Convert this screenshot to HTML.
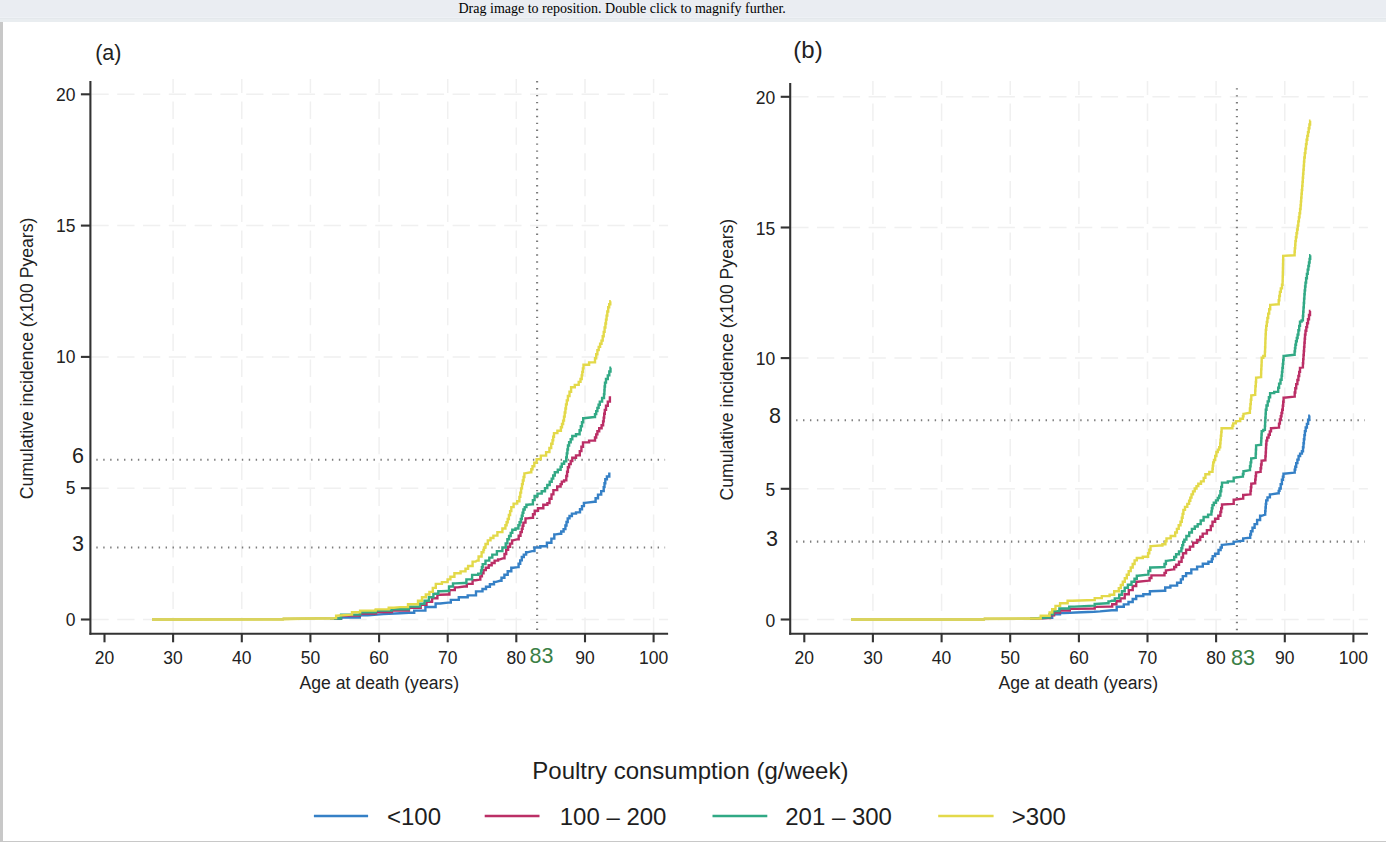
<!DOCTYPE html>
<html><head><meta charset="utf-8"><style>
html,body{margin:0;padding:0;background:#fff;}
body{width:1386px;height:842px;overflow:hidden;position:relative;font-family:"Liberation Sans", sans-serif;}
#bar{position:absolute;left:0;top:0;width:1386px;height:17px;background:#eaedf2;}
#bar2{position:absolute;left:0;top:17px;width:1386px;height:5px;background:#e9edf0;border-top:1px solid #eef1f5;box-sizing:border-box;}
#bar3{position:absolute;left:0;top:18px;width:1386px;height:1px;background:#e4e8ec;}
#msg{position:absolute;left:458.5px;top:0px;font-family:"Liberation Serif",serif;font-size:14px;line-height:18px;color:#000;white-space:nowrap;}
#lb{position:absolute;left:0;top:22px;width:3px;height:820px;background:#c8c8c8;}
#bb{position:absolute;left:0;top:841px;width:1386px;height:1px;background:#c8c8c8;}
svg{position:absolute;left:0;top:0;}
</style></head><body>
<div id="bar"></div><div id="bar2"></div><div id="bar3"></div>
<div id="msg">Drag image to reposition. Double click to magnify further.</div>
<svg width="1386" height="842" viewBox="0 0 1386 842" font-family='"Liberation Sans", sans-serif'>
<defs><filter id="bl" x="-5%" y="-5%" width="110%" height="110%"><feGaussianBlur stdDeviation="0.4"/></filter></defs>
<g stroke="#f0f0f0" stroke-width="1.5" stroke-dasharray="17.3 8.5" fill="none"><line x1="173.1" y1="79" x2="173.1" y2="632.8" stroke-dashoffset="3.2"/><line x1="241.8" y1="79" x2="241.8" y2="632.8" stroke-dashoffset="3.2"/><line x1="310.4" y1="79" x2="310.4" y2="632.8" stroke-dashoffset="3.2"/><line x1="379.1" y1="79" x2="379.1" y2="632.8" stroke-dashoffset="3.2"/><line x1="447.7" y1="79" x2="447.7" y2="632.8" stroke-dashoffset="3.2"/><line x1="516.3" y1="79" x2="516.3" y2="632.8" stroke-dashoffset="3.2"/><line x1="585.0" y1="79" x2="585.0" y2="632.8" stroke-dashoffset="3.2"/><line x1="653.6" y1="79" x2="653.6" y2="632.8" stroke-dashoffset="3.2"/><line x1="91.4" y1="619.5" x2="668.1" y2="619.5"/><line x1="91.4" y1="488.2" x2="668.1" y2="488.2"/><line x1="91.4" y1="356.9" x2="668.1" y2="356.9"/><line x1="91.4" y1="225.6" x2="668.1" y2="225.6"/><line x1="91.4" y1="94.3" x2="668.1" y2="94.3"/></g>
<g stroke="#7c7c7c" stroke-width="2.1" stroke-dasharray="1.4 5.53" fill="none"><line x1="96.3" y1="459.8" x2="665.1" y2="459.8"/><line x1="96.3" y1="547.5" x2="665.1" y2="547.5"/><line x1="537.1" y1="81.1" x2="537.1" y2="633.8"/></g>
<g filter="url(#bl)">
<polyline points="330.0,618.8 340.9,618.8 340.9,617.5 351.7,617.5 359.8,617.5 359.8,615.2 367.9,615.2 383.5,614.1 400.0,613.3 408.9,612.8 414.2,612.8 414.2,610.6 419.6,610.6 425.4,610.6 425.4,607.0 431.2,607.0 435.6,607.0 435.6,603.5 440.1,603.5 448.1,602.6 450.8,602.6 450.8,599.9 453.5,599.9 458.8,599.9 458.8,597.2 464.1,597.2 467.7,597.2 467.7,595.4 471.3,595.4 476.0,595.4 476.0,591.4 480.7,591.4 482.5,591.4 482.5,589.0 486.0,589.0 486.0,586.7 487.8,586.7 489.9,586.7 489.9,584.3 494.0,584.3 494.0,581.9 496.1,581.9 500.0,580.8 501.5,580.8 501.5,577.8 504.4,577.8 504.4,574.8 505.9,574.8 507.7,574.8 507.7,571.2 511.3,571.2 511.3,567.7 513.1,567.7 517.8,567.1 518.6,567.1 518.6,563.7 520.2,563.7 520.2,560.4 521.8,560.4 521.8,557.0 522.6,557.0 523.8,557.0 523.8,554.6 526.1,554.6 526.1,552.3 527.3,552.3 532.1,551.1 534.5,551.1 534.5,547.5 536.8,547.5 540.3,547.5 540.3,546.3 543.9,546.3 546.9,546.3 546.9,542.8 549.9,542.8 551.4,542.8 551.4,538.6 554.3,538.6 554.3,534.4 555.8,534.4 560.0,533.8 561.2,533.8 561.2,531.5 563.6,531.5 563.6,529.1 564.8,529.1 565.4,529.1 565.4,525.5 566.5,525.5 566.5,522.0 567.7,522.0 567.7,518.4 568.3,518.4 569.5,518.4 569.5,516.0 571.9,516.0 571.9,513.6 573.1,513.6 576.0,513.6 576.0,512.4 579.0,512.4 580.0,512.4 580.0,509.2 582.0,509.2 582.0,506.1 583.9,506.1 583.9,502.9 584.9,502.9 594.4,501.8 595.6,501.8 595.6,498.2 598.0,498.2 598.0,494.6 599.2,494.6 601.2,494.6 601.2,491.1 603.3,491.1 603.7,491.1 603.7,487.1 604.5,487.1 604.5,483.2 605.3,483.2 605.3,479.2 605.7,479.2 606.9,479.2 606.9,476.5 609.3,476.5 609.3,473.8 610.5,473.8" fill="none" stroke="#3580c6" stroke-width="2.4" stroke-linejoin="miter" stroke-linecap="butt"/>
<polyline points="330.0,618.6 341.0,618.6 341.0,615.5 352.0,615.5 360.0,615.5 360.0,613.5 368.0,613.5 376.0,613.5 376.0,612.0 384.0,612.0 392.0,612.0 392.0,610.6 400.0,610.6 408.9,610.6 408.9,607.9 417.8,607.9 420.7,607.9 420.7,604.8 426.5,604.8 426.5,601.7 429.4,601.7 432.1,601.7 432.1,598.2 437.4,598.2 437.4,594.7 440.1,594.7 447.2,594.5 449.4,594.5 449.4,590.1 451.7,590.1 454.8,590.1 454.8,587.4 457.9,587.4 464.1,586.5 466.8,586.5 466.8,583.9 469.5,583.9 472.6,583.9 472.6,580.3 475.7,580.3 479.5,579.6 480.3,579.6 480.3,576.4 481.9,576.4 481.9,573.3 483.5,573.3 483.5,570.1 484.3,570.1 485.8,570.1 485.8,567.7 488.7,567.7 488.7,565.3 490.2,565.3 491.7,565.3 491.7,563.0 494.6,563.0 494.6,560.6 496.1,560.6 498.1,560.6 498.1,559.4 500.0,559.4 503.6,558.2 504.5,558.2 504.5,554.0 506.2,554.0 506.2,549.9 507.1,549.9 508.1,549.9 508.1,546.7 510.1,546.7 510.1,543.6 512.1,543.6 512.1,540.4 513.1,540.4 517.8,539.2 518.7,539.2 518.7,535.7 520.5,535.7 520.5,532.1 521.4,532.1 521.8,532.1 521.8,528.9 522.6,528.9 522.6,525.8 523.4,525.8 523.4,522.6 523.8,522.6 525.5,522.6 525.5,518.4 527.3,518.4 532.1,517.8 533.0,517.8 533.0,514.2 534.7,514.2 534.7,510.7 535.6,510.7 538.0,510.7 538.0,508.3 540.4,508.3 543.3,508.3 543.3,504.8 546.3,504.8 547.4,504.8 547.4,503.1 548.5,503.1 549.5,503.1 549.5,498.8 551.5,498.8 551.5,494.4 553.4,494.4 553.4,490.1 554.4,490.1 557.2,490.1 557.2,486.5 560.0,486.5 560.6,486.5 560.6,484.1 561.8,484.1 561.8,481.6 562.4,481.6 564.1,481.6 564.1,480.4 565.9,480.4 566.3,480.4 566.3,476.0 567.1,476.0 567.1,471.7 567.9,471.7 567.9,467.3 568.3,467.3 569.1,467.3 569.1,464.1 570.7,464.1 570.7,461.0 572.3,461.0 572.3,457.8 573.1,457.8 576.0,457.8 576.0,455.4 579.0,455.4 579.8,455.4 579.8,451.1 581.4,451.1 581.4,446.7 583.0,446.7 583.0,442.4 583.8,442.4 589.1,442.4 589.1,440.6 594.4,440.6 595.0,440.6 595.0,437.5 596.2,437.5 596.2,434.4 597.4,434.4 597.4,431.3 598.0,431.3 599.2,431.3 599.2,428.3 601.6,428.3 601.6,425.3 602.8,425.3 603.1,425.3 603.1,421.4 603.7,421.4 603.7,417.6 604.2,417.6 604.2,413.8 604.8,413.8 604.8,409.9 605.1,409.9 606.0,409.9 606.0,405.8 607.8,405.8 607.8,401.6 608.7,401.6 609.9,401.6 609.9,397.4 611.1,397.4" fill="none" stroke="#bb2f66" stroke-width="2.4" stroke-linejoin="miter" stroke-linecap="butt"/>
<polyline points="330.0,618.5 341.1,618.5 341.1,614.6 352.3,614.6 360.1,614.6 360.1,612.3 367.9,612.3 375.7,612.3 375.7,610.6 383.5,610.6 391.8,610.6 391.8,609.2 400.0,609.2 408.9,609.2 408.9,606.6 417.8,606.6 420.0,606.6 420.0,603.7 424.5,603.7 424.5,600.8 426.7,600.8 428.9,600.8 428.9,597.2 433.4,597.2 433.4,593.7 435.6,593.7 438.3,593.7 438.3,591.2 441.0,591.2 447.2,591.0 449.0,591.0 449.0,586.5 450.8,586.5 453.0,586.5 453.0,583.4 455.2,583.4 464.1,583.0 466.4,583.0 466.4,579.4 468.6,579.4 472.1,579.4 472.1,574.9 475.7,574.9 478.2,574.9 478.2,573.6 480.7,573.6 481.1,573.6 481.1,570.4 481.9,570.4 481.9,567.3 482.7,567.3 482.7,564.1 483.1,564.1 485.5,564.1 485.5,560.6 487.8,560.6 489.3,560.6 489.3,557.6 492.3,557.6 492.3,554.6 493.8,554.6 496.9,554.6 496.9,551.1 500.0,551.1 502.4,551.1 502.4,547.5 504.8,547.5 505.7,547.5 505.7,543.4 507.4,543.4 507.4,539.2 508.3,539.2 509.1,539.2 509.1,536.0 510.7,536.0 510.7,532.9 512.3,532.9 512.3,529.7 513.1,529.7 515.5,529.7 515.5,528.5 517.8,528.5 518.4,528.5 518.4,525.3 519.6,525.3 519.6,522.2 520.8,522.2 520.8,519.0 521.4,519.0 521.8,519.0 521.8,515.8 522.6,515.8 522.6,512.7 523.4,512.7 523.4,509.5 523.8,509.5 524.7,509.5 524.7,507.1 526.4,507.1 526.4,504.8 527.3,504.8 532.1,504.2 532.9,504.2 532.9,500.1 534.6,500.1 534.6,496.0 535.4,496.0 537.5,496.0 537.5,493.6 541.7,493.6 541.7,491.3 543.8,491.3 545.0,491.3 545.0,488.1 547.3,488.1 547.3,485.0 549.7,485.0 549.7,481.8 550.9,481.8 551.7,481.8 551.7,478.6 553.2,478.6 553.2,475.5 554.8,475.5 554.8,472.3 555.6,472.3 557.8,472.3 557.8,469.7 560.0,469.7 560.6,469.7 560.6,466.8 561.8,466.8 561.8,463.8 562.4,463.8 564.1,463.8 564.1,461.4 565.9,461.4 566.2,461.4 566.2,457.4 566.8,457.4 566.8,453.4 567.4,453.4 567.4,449.5 568.0,449.5 568.0,445.5 568.3,445.5 569.1,445.5 569.1,442.3 570.7,442.3 570.7,439.2 572.3,439.2 572.3,436.0 573.1,436.0 576.0,436.0 576.0,434.2 579.0,434.2 579.6,434.2 579.6,430.2 580.8,430.2 580.8,426.2 582.0,426.2 582.0,422.2 583.2,422.2 583.2,418.2 583.8,418.2 594.4,417.0 595.0,417.0 595.0,414.1 596.2,414.1 596.2,411.1 596.8,411.1 597.4,411.1 597.4,407.9 598.6,407.9 598.6,404.8 599.8,404.8 599.8,401.6 600.4,401.6 602.1,401.6 602.1,398.0 603.9,398.0 604.0,398.0 604.0,394.1 604.4,394.1 604.4,390.3 604.6,390.3 604.6,386.5 605.0,386.5 605.0,382.6 605.1,382.6 606.0,382.6 606.0,379.0 607.8,379.0 607.8,375.4 608.7,375.4 609.3,375.4 609.3,371.5 610.5,371.5 610.5,367.7 611.1,367.7" fill="none" stroke="#30a985" stroke-width="2.4" stroke-linejoin="miter" stroke-linecap="butt"/>
<polyline points="152.0,619.5 283.0,619.2 320.0,618.3 336.0,618.0 336.1,618.0 336.1,615.8 336.2,615.8 351.7,614.6 352.0,614.6 352.0,612.3 352.3,612.3 360.1,612.3 360.1,610.6 367.9,610.6 375.7,610.6 375.7,609.4 383.5,609.4 388.7,609.4 388.7,607.7 393.9,607.7 400.0,607.1 408.0,607.1 408.0,604.3 416.0,604.3 418.0,604.3 418.0,600.8 422.0,600.8 422.0,597.2 424.0,597.2 425.8,597.2 425.8,594.5 429.4,594.5 429.4,591.9 431.2,591.9 432.8,591.9 432.8,587.9 435.8,587.9 435.8,583.9 437.4,583.9 441.9,583.9 441.9,582.1 446.3,582.1 447.6,582.1 447.6,579.4 450.4,579.4 450.4,576.7 451.7,576.7 454.4,576.7 454.4,573.2 457.0,573.2 460.6,573.2 460.6,571.4 464.1,571.4 465.5,571.4 465.5,568.7 468.1,568.7 468.1,566.0 469.5,566.0 472.6,566.0 472.6,561.6 475.7,561.6 477.1,560.6 478.6,560.6 478.6,556.5 481.6,556.5 481.6,552.3 483.1,552.3 483.4,552.3 483.4,549.9 484.0,549.9 484.0,547.5 484.3,547.5 485.5,547.5 485.5,544.0 487.8,544.0 487.8,540.4 489.0,540.4 490.5,540.4 490.5,538.0 493.4,538.0 493.4,535.6 494.9,535.6 497.4,535.6 497.4,532.1 500.0,532.1 502.4,532.1 502.4,528.5 504.8,528.5 505.4,528.5 505.4,525.3 506.6,525.3 506.6,522.2 507.7,522.2 507.7,519.0 508.3,519.0 508.9,519.0 508.9,515.0 510.1,515.0 510.1,511.1 511.3,511.1 511.3,507.1 511.9,507.1 513.6,507.1 513.6,503.6 515.4,503.6 517.2,503.6 517.2,501.2 519.0,501.2 519.4,501.2 519.4,496.9 520.3,496.9 520.3,492.6 521.1,492.6 521.1,488.4 522.0,488.4 522.0,484.1 522.4,484.1 522.8,484.1 522.8,480.5 523.6,480.5 523.6,477.0 524.4,477.0 524.4,473.4 524.8,473.4 530.7,472.3 531.3,472.3 531.3,469.3 532.5,469.3 532.5,466.3 533.1,466.3 534.3,466.3 534.3,462.8 536.6,462.8 536.6,459.2 537.8,459.2 540.8,459.2 540.8,455.6 543.8,455.6 546.1,455.6 546.1,452.1 548.5,452.1 549.4,452.1 549.4,448.0 551.2,448.0 551.2,443.8 552.1,443.8 552.5,443.8 552.5,440.2 553.2,440.2 553.2,436.7 554.0,436.7 554.0,433.1 554.4,433.1 557.4,433.1 557.4,430.7 560.4,430.7 560.9,430.7 560.9,427.3 562.0,427.3 562.0,424.0 563.1,424.0 563.1,420.6 563.6,420.6 564.0,420.6 564.0,416.6 564.7,416.6 564.7,412.5 565.4,412.5 565.4,408.5 566.0,408.5 566.0,404.4 566.8,404.4 566.8,400.4 567.1,400.4 567.9,400.4 567.9,396.0 569.5,396.0 569.5,391.7 571.1,391.7 571.1,387.3 571.9,387.3 574.8,387.3 574.8,384.9 577.8,384.9 578.7,384.9 578.7,381.9 580.5,381.9 580.5,379.0 581.4,379.0 581.7,379.0 581.7,375.4 582.3,375.4 582.3,371.9 582.9,371.9 582.9,368.4 583.5,368.4 583.5,364.8 583.8,364.8 589.1,364.8 589.1,362.4 594.4,362.4 595.0,362.4 595.0,358.3 596.2,358.3 596.2,354.2 597.4,354.2 597.4,350.1 598.0,350.1 598.7,350.1 598.7,346.9 600.1,346.9 600.1,343.8 601.5,343.8 601.5,340.6 602.2,340.6 602.7,340.6 602.7,336.2 603.7,336.2 603.7,331.9 604.6,331.9 604.6,327.5 605.1,327.5 605.4,327.5 605.4,323.5 606.0,323.5 606.0,319.6 606.6,319.6 606.6,315.6 606.9,315.6 607.3,315.6 607.3,311.5 608.2,311.5 608.2,307.3 608.7,307.3 609.2,307.3 609.2,304.2 610.3,304.2 610.3,301.2 610.8,301.2" fill="none" stroke="#e3d94a" stroke-width="2.4" stroke-linejoin="miter" stroke-linecap="butt"/>
<polyline points="152.0,619.5 283.0,619.4 283.5,618.6 334.0,618.3" fill="none" stroke="#d9d35e" stroke-width="2.8"/>
</g>
<g stroke="#333" stroke-width="2.1" fill="none"><line x1="90.4" y1="81" x2="90.4" y2="634.6999999999999"/><line x1="89.5" y1="633.8" x2="668.1" y2="633.8"/>
<line x1="80.9" y1="619.5" x2="90.4" y2="619.5"/>
<line x1="80.9" y1="488.2" x2="90.4" y2="488.2"/>
<line x1="80.9" y1="356.9" x2="90.4" y2="356.9"/>
<line x1="80.9" y1="225.6" x2="90.4" y2="225.6"/>
<line x1="80.9" y1="94.3" x2="90.4" y2="94.3"/>
<line x1="104.5" y1="633.8" x2="104.5" y2="642.3"/>
<line x1="173.1" y1="633.8" x2="173.1" y2="642.3"/>
<line x1="241.8" y1="633.8" x2="241.8" y2="642.3"/>
<line x1="310.4" y1="633.8" x2="310.4" y2="642.3"/>
<line x1="379.1" y1="633.8" x2="379.1" y2="642.3"/>
<line x1="447.7" y1="633.8" x2="447.7" y2="642.3"/>
<line x1="516.3" y1="633.8" x2="516.3" y2="642.3"/>
<line x1="585.0" y1="633.8" x2="585.0" y2="642.3"/>
<line x1="653.6" y1="633.8" x2="653.6" y2="642.3"/>
</g>
<g font-size="17.5" fill="#222"><text x="75.4" y="625.7" text-anchor="end">0</text><text x="75.4" y="494.4" text-anchor="end">5</text><text x="75.4" y="363.1" text-anchor="end">10</text><text x="75.4" y="231.8" text-anchor="end">15</text><text x="75.4" y="100.5" text-anchor="end">20</text><text x="104.5" y="663.6" text-anchor="middle">20</text><text x="173.1" y="663.6" text-anchor="middle">30</text><text x="241.8" y="663.6" text-anchor="middle">40</text><text x="310.4" y="663.6" text-anchor="middle">50</text><text x="379.1" y="663.6" text-anchor="middle">60</text><text x="447.7" y="663.6" text-anchor="middle">70</text><text x="516.3" y="663.6" text-anchor="middle">80</text><text x="585.0" y="663.6" text-anchor="middle">90</text><text x="653.6" y="663.6" text-anchor="middle">100</text></g>
<text x="84" y="462.7" font-size="21.5" text-anchor="end" fill="#222">6</text>
<text x="84" y="551" font-size="21.5" text-anchor="end" fill="#222">3</text>
<text x="529.5" y="663.4" font-size="21.5" fill="#3a7f46">83</text>
<text x="95.2" y="59.5" font-size="21.5" fill="#222">(a)</text>
<text transform="translate(33,499.3) rotate(-90)" font-size="17.6" fill="#222">Cumulative incidence (x100 Pyears)</text>
<text x="299.6" y="688.6" font-size="17.6" fill="#222">Age at death (years)</text>
<g stroke="#f0f0f0" stroke-width="1.5" stroke-dasharray="17.3 8.5" fill="none"><line x1="872.9" y1="81" x2="872.9" y2="632.8" stroke-dashoffset="3.2"/><line x1="941.6" y1="81" x2="941.6" y2="632.8" stroke-dashoffset="3.2"/><line x1="1010.2" y1="81" x2="1010.2" y2="632.8" stroke-dashoffset="3.2"/><line x1="1078.9" y1="81" x2="1078.9" y2="632.8" stroke-dashoffset="3.2"/><line x1="1147.5" y1="81" x2="1147.5" y2="632.8" stroke-dashoffset="3.2"/><line x1="1216.1" y1="81" x2="1216.1" y2="632.8" stroke-dashoffset="3.2"/><line x1="1284.8" y1="81" x2="1284.8" y2="632.8" stroke-dashoffset="3.2"/><line x1="1353.4" y1="81" x2="1353.4" y2="632.8" stroke-dashoffset="3.2"/><line x1="791.2" y1="619.5" x2="1367.9" y2="619.5"/><line x1="791.2" y1="488.8" x2="1367.9" y2="488.8"/><line x1="791.2" y1="358.1" x2="1367.9" y2="358.1"/><line x1="791.2" y1="227.5" x2="1367.9" y2="227.5"/><line x1="791.2" y1="96.8" x2="1367.9" y2="96.8"/></g>
<g stroke="#7c7c7c" stroke-width="2.1" stroke-dasharray="1.4 5.53" fill="none"><line x1="796.1" y1="420.3" x2="1364.9" y2="420.3"/><line x1="796.1" y1="541.6" x2="1364.9" y2="541.6"/><line x1="1236.9" y1="88.2" x2="1236.9" y2="633.8"/></g>
<g filter="url(#bl)">
<polyline points="1030.0,618.9 1048.3,617.7 1052.2,617.7 1052.2,614.4 1056.1,614.4 1060.0,614.4 1060.0,613.1 1064.0,613.1 1075.7,612.5 1094.0,611.8 1100.0,611.4 1111.9,610.3 1116.7,610.3 1116.7,606.7 1121.4,606.7 1123.8,606.7 1123.8,604.4 1128.5,604.4 1128.5,602.0 1130.9,602.0 1132.7,602.0 1132.7,599.0 1136.2,599.0 1136.2,596.0 1138.0,596.0 1143.3,596.0 1143.3,594.2 1148.7,594.2 1149.9,594.2 1149.9,591.3 1151.1,591.3 1163.8,590.8 1165.2,590.8 1165.2,587.5 1166.6,587.5 1170.4,587.5 1170.4,585.6 1174.2,585.6 1177.1,585.6 1177.1,582.7 1180.0,582.7 1180.9,582.7 1180.9,579.4 1182.8,579.4 1182.8,576.1 1183.7,576.1 1186.1,576.1 1186.1,573.2 1188.5,573.2 1191.3,573.2 1191.3,569.4 1194.2,569.4 1197.1,569.4 1197.1,566.6 1199.9,566.6 1202.8,566.6 1202.8,563.7 1205.6,563.7 1208.4,563.7 1208.4,561.8 1211.3,561.8 1211.8,561.8 1211.8,559.0 1212.7,559.0 1212.7,556.1 1213.2,556.1 1215.1,556.1 1215.1,553.8 1217.0,553.8 1218.5,553.8 1218.5,550.0 1220.0,550.0 1220.6,550.0 1220.6,547.5 1221.8,547.5 1221.8,544.9 1222.4,544.9 1233.1,543.7 1233.7,543.7 1233.7,541.9 1234.3,541.9 1242.6,540.8 1243.2,540.8 1243.2,538.4 1243.8,538.4 1249.7,537.8 1250.2,537.8 1250.2,534.5 1251.0,534.5 1251.0,531.3 1251.5,531.3 1252.5,531.3 1252.5,527.7 1254.6,527.7 1254.6,524.1 1255.6,524.1 1257.1,524.1 1257.1,520.0 1260.1,520.0 1260.1,515.8 1261.6,515.8 1265.1,514.6 1265.2,514.6 1265.2,511.1 1265.5,511.1 1265.5,507.5 1265.8,507.5 1265.8,503.9 1266.2,503.9 1266.2,500.4 1266.3,500.4 1267.5,500.4 1267.5,497.4 1269.9,497.4 1269.9,494.4 1271.1,494.4 1278.2,493.3 1278.7,493.3 1278.7,490.9 1279.5,490.9 1279.5,488.5 1280.0,488.5 1280.7,488.5 1280.7,484.1 1281.9,484.1 1281.9,479.8 1282.6,479.8 1282.9,479.8 1282.9,476.8 1283.5,476.8 1283.5,473.8 1283.8,473.8 1294.4,472.6 1294.7,472.6 1294.7,469.6 1295.3,469.6 1295.3,466.7 1295.6,466.7 1296.2,466.7 1296.2,463.1 1297.4,463.1 1297.4,459.6 1298.6,459.6 1298.6,456.0 1299.2,456.0 1300.1,456.0 1300.1,453.6 1301.9,453.6 1301.9,451.3 1302.8,451.3 1303.0,451.3 1303.0,447.3 1303.5,447.3 1303.5,443.2 1303.9,443.2 1303.9,439.2 1304.4,439.2 1304.4,435.1 1304.9,435.1 1304.9,431.1 1305.1,431.1 1305.7,431.1 1305.7,427.5 1306.9,427.5 1306.9,423.9 1307.5,423.9 1308.1,423.9 1308.1,419.8 1309.3,419.8 1309.3,415.6 1309.9,415.6" fill="none" stroke="#3580c6" stroke-width="2.4" stroke-linejoin="miter" stroke-linecap="butt"/>
<polyline points="1030.0,618.7 1048.0,618.0 1050.0,618.0 1050.0,615.2 1054.1,615.2 1054.1,612.5 1056.1,612.5 1060.0,612.5 1060.0,610.5 1064.0,610.5 1069.8,610.5 1069.8,608.9 1075.7,608.9 1094.0,608.5 1094.7,608.5 1094.7,606.9 1095.3,606.9 1110.0,606.6 1112.2,606.6 1112.2,604.3 1114.3,604.3 1116.4,604.3 1116.4,601.3 1120.5,601.3 1120.5,598.4 1122.6,598.4 1124.7,598.4 1124.7,594.2 1128.8,594.2 1128.8,590.1 1130.9,590.1 1132.7,590.1 1132.7,586.0 1136.2,586.0 1136.2,581.8 1138.0,581.8 1148.7,580.6 1149.6,580.6 1149.6,578.0 1151.4,578.0 1151.4,575.4 1152.3,575.4 1163.8,575.4 1164.5,575.4 1164.5,572.9 1165.9,572.9 1165.9,570.4 1166.6,570.4 1173.3,569.4 1174.2,569.4 1174.2,567.0 1176.1,567.0 1176.1,564.7 1177.1,564.7 1179.0,564.7 1179.0,561.8 1180.9,561.8 1181.6,561.8 1181.6,557.5 1183.0,557.5 1183.0,553.3 1183.7,553.3 1186.1,553.3 1186.1,549.8 1188.5,549.8 1189.9,549.8 1189.9,546.6 1191.3,546.6 1193.2,546.6 1193.2,542.8 1195.1,542.8 1197.0,542.8 1197.0,540.0 1198.9,540.0 1200.2,540.0 1200.2,536.8 1202.7,536.8 1202.7,533.6 1203.9,533.6 1206.9,533.6 1206.9,530.1 1209.9,530.1 1210.8,530.1 1210.8,526.0 1212.5,526.0 1212.5,521.8 1213.4,521.8 1215.1,521.8 1215.1,518.8 1218.3,518.8 1218.3,515.8 1220.0,515.8 1220.4,515.8 1220.4,512.0 1221.2,512.0 1221.2,508.3 1222.0,508.3 1222.0,504.5 1222.4,504.5 1233.1,503.9 1233.7,503.9 1233.7,499.8 1234.3,499.8 1242.6,498.6 1243.2,498.6 1243.2,495.0 1243.8,495.0 1250.3,494.4 1250.5,494.4 1250.5,490.9 1250.9,490.9 1250.9,487.3 1251.3,487.3 1251.3,483.8 1251.5,483.8 1255.0,483.2 1255.2,483.2 1255.2,479.6 1255.6,479.6 1255.6,476.1 1256.0,476.1 1256.0,472.5 1256.2,472.5 1260.4,471.9 1260.6,471.9 1260.6,468.2 1261.1,468.2 1261.1,464.5 1261.6,464.5 1261.6,460.8 1261.8,460.8 1265.3,460.2 1265.4,460.2 1265.4,456.3 1265.7,456.3 1265.7,452.4 1265.9,452.4 1265.9,448.4 1266.1,448.4 1266.1,444.5 1266.4,444.5 1266.4,440.6 1266.5,440.6 1267.2,440.6 1267.2,437.6 1268.6,437.6 1268.6,434.7 1269.3,434.7 1269.8,434.7 1269.8,431.4 1271.0,431.4 1271.0,428.2 1271.5,428.2 1278.5,427.6 1279.0,427.6 1279.0,423.6 1279.9,423.6 1279.9,419.5 1280.4,419.5 1280.8,419.5 1280.8,416.2 1281.5,416.2 1281.5,413.0 1282.2,413.0 1282.2,409.7 1282.6,409.7 1282.8,409.7 1282.8,405.7 1283.2,405.7 1283.2,401.8 1283.6,401.8 1283.6,397.8 1283.8,397.8 1294.4,396.6 1294.7,396.6 1294.7,392.5 1295.3,392.5 1295.3,388.3 1295.6,388.3 1296.2,388.3 1296.2,384.1 1297.4,384.1 1297.4,380.0 1298.0,380.0 1298.4,380.0 1298.4,376.0 1299.2,376.0 1299.2,371.9 1300.0,371.9 1300.0,367.9 1300.4,367.9 1302.8,367.3 1302.9,367.3 1302.9,363.2 1303.2,363.2 1303.2,359.1 1303.5,359.1 1303.5,355.0 1303.8,355.0 1303.8,351.0 1304.1,351.0 1304.1,346.9 1304.4,346.9 1304.4,342.8 1304.7,342.8 1304.7,338.7 1305.0,338.7 1305.0,334.6 1305.1,334.6 1305.5,334.6 1305.5,330.8 1306.3,330.8 1306.3,327.1 1307.1,327.1 1307.1,323.3 1307.5,323.3 1308.0,323.3 1308.0,319.2 1309.0,319.2 1309.0,315.0 1310.0,315.0 1310.0,310.9 1310.5,310.9" fill="none" stroke="#bb2f66" stroke-width="2.4" stroke-linejoin="miter" stroke-linecap="butt"/>
<polyline points="1030.0,618.6 1048.0,617.5 1049.7,617.5 1049.7,614.3 1053.1,614.3 1053.1,611.1 1054.8,611.1 1059.4,611.1 1059.4,608.5 1064.0,608.5 1069.2,608.5 1069.2,606.6 1074.4,606.6 1094.0,605.6 1094.7,605.6 1094.7,604.0 1095.3,604.0 1107.1,603.3 1108.5,603.3 1108.5,601.4 1110.0,601.4 1111.9,600.8 1114.8,600.8 1114.8,598.4 1117.8,598.4 1119.2,598.4 1119.2,594.8 1121.9,594.8 1121.9,591.3 1124.7,591.3 1124.7,587.7 1126.1,587.7 1127.9,587.7 1127.9,584.8 1131.5,584.8 1131.5,581.8 1133.3,581.8 1134.5,581.8 1134.5,578.8 1136.8,578.8 1136.8,575.8 1138.0,575.8 1147.5,574.6 1148.4,574.6 1148.4,571.0 1150.2,571.0 1150.2,567.5 1151.1,567.5 1160.0,567.2 1163.8,567.1 1164.5,567.1 1164.5,564.0 1165.9,564.0 1165.9,560.9 1166.6,560.9 1173.3,559.9 1174.2,559.9 1174.2,557.0 1176.1,557.0 1176.1,554.2 1177.1,554.2 1179.0,554.2 1179.0,551.4 1180.9,551.4 1181.4,551.4 1181.4,548.2 1182.3,548.2 1182.3,545.1 1183.2,545.1 1183.2,541.9 1183.7,541.9 1184.3,541.9 1184.3,539.6 1185.0,539.6 1186.4,539.6 1186.4,536.0 1189.2,536.0 1189.2,532.5 1191.9,532.5 1191.9,528.9 1193.3,528.9 1194.8,528.9 1194.8,526.5 1197.7,526.5 1197.7,524.1 1199.2,524.1 1200.7,524.1 1200.7,520.5 1203.6,520.5 1203.6,517.0 1205.1,517.0 1208.1,517.0 1208.1,514.6 1211.1,514.6 1211.4,514.6 1211.4,511.4 1211.9,511.4 1211.9,508.3 1212.5,508.3 1212.5,505.1 1212.8,505.1 1213.8,505.1 1213.8,502.8 1216.0,502.8 1216.0,500.4 1217.0,500.4 1217.8,500.4 1217.8,498.0 1219.2,498.0 1219.2,495.6 1220.0,495.6 1220.4,495.6 1220.4,491.3 1221.2,491.3 1221.2,486.9 1222.0,486.9 1222.0,482.6 1222.4,482.6 1227.8,482.6 1227.8,481.4 1233.1,481.4 1233.7,481.4 1233.7,477.8 1234.3,477.8 1242.6,476.6 1242.9,476.6 1242.9,474.0 1243.5,474.0 1243.5,471.3 1243.8,471.3 1249.7,470.1 1250.0,470.1 1250.0,466.2 1250.6,466.2 1250.6,462.4 1251.2,462.4 1251.2,458.5 1251.5,458.5 1255.6,457.9 1255.7,457.9 1255.7,453.7 1255.9,453.7 1255.9,449.6 1256.1,449.6 1256.1,445.4 1256.2,445.4 1261.0,444.8 1261.1,444.8 1261.1,441.4 1261.3,441.4 1261.3,438.0 1261.5,438.0 1261.5,434.5 1261.7,434.5 1261.7,431.1 1261.8,431.1 1263.3,431.1 1263.3,429.9 1264.8,429.9 1264.9,429.9 1264.9,425.9 1265.1,425.9 1265.1,421.8 1265.3,421.8 1265.3,417.8 1265.6,417.8 1265.6,413.7 1265.8,413.7 1265.8,409.7 1265.9,409.7 1266.5,409.7 1266.5,405.5 1267.7,405.5 1267.7,401.4 1268.3,401.4 1268.9,401.4 1268.9,397.2 1270.1,397.2 1270.1,393.1 1270.7,393.1 1274.2,393.1 1274.2,391.9 1277.8,391.9 1278.2,391.9 1278.2,387.8 1279.1,387.8 1279.1,383.6 1279.6,383.6 1280.5,383.6 1280.5,379.8 1281.4,379.8 1281.6,379.8 1281.6,375.8 1282.0,375.8 1282.0,371.9 1282.4,371.9 1282.4,367.9 1282.8,367.9 1282.8,363.9 1283.2,363.9 1283.2,360.0 1283.6,360.0 1283.6,356.0 1283.8,356.0 1294.4,354.8 1294.6,354.8 1294.6,351.4 1295.0,351.4 1295.0,348.1 1295.4,348.1 1295.4,344.7 1295.6,344.7 1296.0,344.7 1296.0,341.3 1296.8,341.3 1296.8,338.0 1297.6,338.0 1297.6,334.6 1298.0,334.6 1298.4,334.6 1298.4,330.3 1299.2,330.3 1299.2,325.9 1300.0,325.9 1300.0,321.6 1300.4,321.6 1301.6,321.6 1301.6,320.4 1302.8,320.4 1302.9,320.4 1302.9,316.0 1303.2,316.0 1303.2,311.7 1303.5,311.7 1303.5,307.4 1303.8,307.4 1303.8,303.0 1304.1,303.0 1304.1,298.6 1304.4,298.6 1304.4,294.3 1304.5,294.3 1304.7,294.3 1304.7,290.4 1305.1,290.4 1305.1,286.5 1305.5,286.5 1305.5,282.6 1305.7,282.6 1306.1,282.6 1306.1,278.3 1306.9,278.3 1306.9,273.9 1307.7,273.9 1307.7,269.6 1308.1,269.6 1308.4,269.6 1308.4,266.0 1309.0,266.0 1309.0,262.5 1309.6,262.5 1309.6,258.9 1310.2,258.9 1310.2,255.3 1310.5,255.3" fill="none" stroke="#30a985" stroke-width="2.4" stroke-linejoin="miter" stroke-linecap="butt"/>
<polyline points="851.0,619.5 984.0,619.5 984.5,618.8 1033.0,618.5 1040.7,618.5 1040.7,615.7 1048.3,615.7 1049.6,615.7 1049.6,612.5 1052.2,612.5 1052.2,609.2 1053.5,609.2 1055.5,609.2 1055.5,605.9 1057.4,605.9 1060.1,605.9 1060.1,603.3 1062.7,603.3 1067.6,603.3 1067.6,600.7 1072.5,600.7 1094.0,600.0 1094.7,600.0 1094.7,598.1 1095.3,598.1 1101.8,598.1 1101.8,596.1 1108.4,596.1 1109.6,596.1 1109.6,594.8 1110.7,594.8 1114.2,594.8 1114.2,591.3 1117.8,591.3 1118.8,591.3 1118.8,588.1 1120.8,588.1 1120.8,585.0 1122.8,585.0 1122.8,581.8 1123.8,581.8 1124.8,581.8 1124.8,578.2 1126.8,578.2 1126.8,574.7 1128.7,574.7 1128.7,571.1 1129.7,571.1 1130.7,571.1 1130.7,567.5 1132.7,567.5 1132.7,564.0 1134.6,564.0 1134.6,560.4 1135.6,560.4 1136.8,560.4 1136.8,558.0 1138.0,558.0 1142.8,558.0 1142.8,556.8 1147.5,556.8 1148.1,556.8 1148.1,553.2 1149.3,553.2 1149.3,549.7 1150.5,549.7 1150.5,546.1 1151.1,546.1 1160.0,545.5 1162.4,545.5 1162.4,544.3 1164.8,544.3 1165.4,544.3 1165.4,541.3 1166.5,541.3 1166.5,538.4 1167.1,538.4 1170.7,538.4 1170.7,536.0 1174.3,536.0 1175.2,536.0 1175.2,532.5 1176.9,532.5 1176.9,528.9 1177.8,528.9 1178.7,528.9 1178.7,525.3 1180.5,525.3 1180.5,521.8 1181.4,521.8 1181.8,521.8 1181.8,517.8 1182.6,517.8 1182.6,513.9 1183.4,513.9 1183.4,509.9 1183.8,509.9 1185.0,509.9 1185.0,506.9 1187.3,506.9 1187.3,503.9 1188.5,503.9 1189.1,503.9 1189.1,500.7 1190.3,500.7 1190.3,497.6 1191.5,497.6 1191.5,494.4 1192.1,494.4 1193.0,494.4 1193.0,491.4 1194.7,491.4 1194.7,488.5 1195.6,488.5 1196.5,488.5 1196.5,486.1 1198.3,486.1 1198.3,483.8 1199.2,483.8 1201.0,483.8 1201.0,481.4 1202.8,481.4 1203.7,481.4 1203.7,477.9 1205.4,477.9 1205.4,474.3 1206.3,474.3 1209.3,474.3 1209.3,471.9 1212.3,471.9 1212.5,471.9 1212.5,468.7 1212.8,468.7 1212.8,465.6 1213.2,465.6 1213.2,462.4 1213.4,462.4 1214.0,462.4 1214.0,460.0 1214.6,460.0 1215.2,460.0 1215.2,456.0 1216.4,456.0 1216.4,452.0 1217.0,452.0 1217.8,452.0 1217.8,449.6 1219.2,449.6 1219.2,447.2 1220.0,447.2 1220.2,447.2 1220.2,443.4 1220.5,443.4 1220.5,439.6 1220.9,439.6 1220.9,435.8 1221.3,435.8 1221.3,432.0 1221.6,432.0 1221.6,428.2 1221.8,428.2 1231.9,428.2 1232.4,428.2 1232.4,425.8 1233.2,425.8 1233.2,423.4 1233.7,423.4 1235.8,423.4 1235.8,421.1 1237.8,421.1 1240.2,421.1 1240.2,418.7 1242.6,418.7 1242.9,418.7 1242.9,416.3 1243.5,416.3 1243.5,413.9 1243.8,413.9 1249.7,412.8 1249.9,412.8 1249.9,408.5 1250.4,408.5 1250.4,404.1 1250.8,404.1 1250.8,399.8 1251.3,399.8 1251.3,395.5 1251.5,395.5 1255.0,394.9 1255.2,394.9 1255.2,390.6 1255.4,390.6 1255.4,386.3 1255.8,386.3 1255.8,382.0 1256.1,382.0 1256.1,377.7 1256.2,377.7 1261.0,377.1 1261.1,377.1 1261.1,373.2 1261.2,373.2 1261.2,369.4 1261.4,369.4 1261.4,365.5 1261.6,365.5 1261.6,361.7 1261.7,361.7 1261.7,357.8 1261.8,357.8 1263.3,357.8 1263.3,356.0 1264.8,356.0 1264.9,356.0 1264.9,351.6 1265.1,351.6 1265.1,347.3 1265.3,347.3 1265.3,342.9 1265.4,342.9 1265.4,338.6 1265.6,338.6 1265.6,334.2 1265.8,334.2 1265.8,329.9 1265.9,329.9 1266.2,329.9 1266.2,325.9 1266.8,325.9 1266.8,322.0 1267.4,322.0 1267.4,318.0 1267.7,318.0 1268.2,318.0 1268.2,313.6 1269.2,313.6 1269.2,309.3 1270.2,309.3 1270.2,304.9 1270.7,304.9 1278.4,304.3 1278.7,304.3 1278.7,300.2 1279.3,300.2 1279.3,296.0 1279.9,296.0 1279.9,291.9 1280.2,291.9 1280.8,291.9 1280.8,288.4 1282.0,288.4 1282.0,284.8 1282.6,284.8 1282.6,284.8 1282.6,280.7 1282.7,280.7 1282.7,276.5 1282.8,276.5 1282.8,272.4 1282.9,272.4 1282.9,268.3 1283.0,268.3 1283.0,264.2 1283.1,264.2 1283.1,260.0 1283.2,260.0 1283.2,255.9 1283.2,255.9 1294.4,255.3 1294.6,255.3 1294.6,251.8 1294.8,251.8 1294.8,248.2 1295.2,248.2 1295.2,244.7 1295.4,244.7 1295.4,241.1 1295.6,241.1 1295.9,241.1 1295.9,237.2 1296.5,237.2 1296.5,233.3 1297.1,233.3 1297.1,229.5 1297.7,229.5 1297.7,225.6 1298.0,225.6 1298.3,225.6 1298.3,221.4 1298.9,221.4 1298.9,217.3 1299.5,217.3 1299.5,213.2 1300.1,213.2 1300.1,209.0 1300.4,209.0 1300.6,209.0 1300.6,205.2 1300.9,205.2 1300.9,201.4 1301.2,201.4 1301.2,197.6 1301.5,197.6 1301.5,193.8 1301.8,193.8 1301.8,190.0 1302.0,190.0 1302.2,190.0 1302.2,185.9 1302.5,185.9 1302.5,181.9 1302.8,181.9 1302.8,177.8 1303.1,177.8 1303.1,173.8 1303.4,173.8 1303.4,169.7 1303.7,169.7 1303.7,165.6 1304.0,165.6 1304.0,161.6 1304.3,161.6 1304.3,157.5 1304.5,157.5 1304.8,157.5 1304.8,153.1 1305.4,153.1 1305.4,148.6 1306.0,148.6 1306.0,144.1 1306.6,144.1 1306.6,139.7 1306.9,139.7 1307.3,139.7 1307.3,135.9 1308.0,135.9 1308.0,132.1 1308.7,132.1 1308.7,128.3 1309.4,128.3 1309.4,124.5 1310.1,124.5 1310.1,120.7 1310.5,120.7" fill="none" stroke="#e3d94a" stroke-width="2.4" stroke-linejoin="miter" stroke-linecap="butt"/>
<polyline points="851.0,619.5 984.0,619.5 984.5,618.9 1030.0,618.6" fill="none" stroke="#d9d35e" stroke-width="2.8"/>
</g>
<g stroke="#333" stroke-width="2.1" fill="none"><line x1="790.2" y1="83" x2="790.2" y2="634.6999999999999"/><line x1="789.3000000000001" y1="633.8" x2="1367.9" y2="633.8"/>
<line x1="780.7" y1="619.5" x2="790.2" y2="619.5"/>
<line x1="780.7" y1="488.8" x2="790.2" y2="488.8"/>
<line x1="780.7" y1="358.1" x2="790.2" y2="358.1"/>
<line x1="780.7" y1="227.5" x2="790.2" y2="227.5"/>
<line x1="780.7" y1="96.8" x2="790.2" y2="96.8"/>
<line x1="804.3" y1="633.8" x2="804.3" y2="642.3"/>
<line x1="872.9" y1="633.8" x2="872.9" y2="642.3"/>
<line x1="941.6" y1="633.8" x2="941.6" y2="642.3"/>
<line x1="1010.2" y1="633.8" x2="1010.2" y2="642.3"/>
<line x1="1078.9" y1="633.8" x2="1078.9" y2="642.3"/>
<line x1="1147.5" y1="633.8" x2="1147.5" y2="642.3"/>
<line x1="1216.1" y1="633.8" x2="1216.1" y2="642.3"/>
<line x1="1284.8" y1="633.8" x2="1284.8" y2="642.3"/>
<line x1="1353.4" y1="633.8" x2="1353.4" y2="642.3"/>
</g>
<g font-size="17.5" fill="#222"><text x="775.2" y="626.8" text-anchor="end">0</text><text x="775.2" y="496.1" text-anchor="end">5</text><text x="775.2" y="365.4" text-anchor="end">10</text><text x="775.2" y="234.8" text-anchor="end">15</text><text x="775.2" y="104.1" text-anchor="end">20</text><text x="804.3" y="663.6" text-anchor="middle">20</text><text x="872.9" y="663.6" text-anchor="middle">30</text><text x="941.6" y="663.6" text-anchor="middle">40</text><text x="1010.2" y="663.6" text-anchor="middle">50</text><text x="1078.9" y="663.6" text-anchor="middle">60</text><text x="1147.5" y="663.6" text-anchor="middle">70</text><text x="1216.1" y="663.6" text-anchor="middle">80</text><text x="1284.8" y="663.6" text-anchor="middle">90</text><text x="1353.4" y="663.6" text-anchor="middle">100</text></g>
<text x="781" y="422.7" font-size="21.5" text-anchor="end" fill="#222">8</text>
<text x="778" y="545.6" font-size="21.5" text-anchor="end" fill="#222">3</text>
<text x="1231" y="665.2" font-size="21.7" fill="#3a7f46">83</text>
<text x="793.3" y="58" font-size="24" fill="#222">(b)</text>
<text transform="translate(733,500.4) rotate(-90)" font-size="17.6" fill="#222">Cumulative incidence (x100 Pyears)</text>
<text x="998.6" y="688.6" font-size="17.6" fill="#222">Age at death (years)</text>

<text x="532.3" y="778.5" font-size="24" fill="#1e1e1e">Poultry consumption (g/week)</text>
<g stroke-width="2.4">
<line x1="313.9" y1="816" x2="368.1" y2="816" stroke="#3580c6"/>
<line x1="484.7" y1="816" x2="539.5" y2="816" stroke="#bb2f66"/>
<line x1="712.5" y1="816" x2="767.3" y2="816" stroke="#30a985"/>
<line x1="938.2" y1="816" x2="993.6" y2="816" stroke="#e3d94a"/>
</g>
<g font-size="24" fill="#1e1e1e">
<text x="387" y="825">&lt;100</text>
<text x="559.7" y="825">100 – 200</text>
<text x="785.2" y="825">201 – 300</text>
<text x="1011.8" y="825">&gt;300</text>
</g>

</svg>
<div id="lb"></div><div id="bb"></div>
</body></html>
